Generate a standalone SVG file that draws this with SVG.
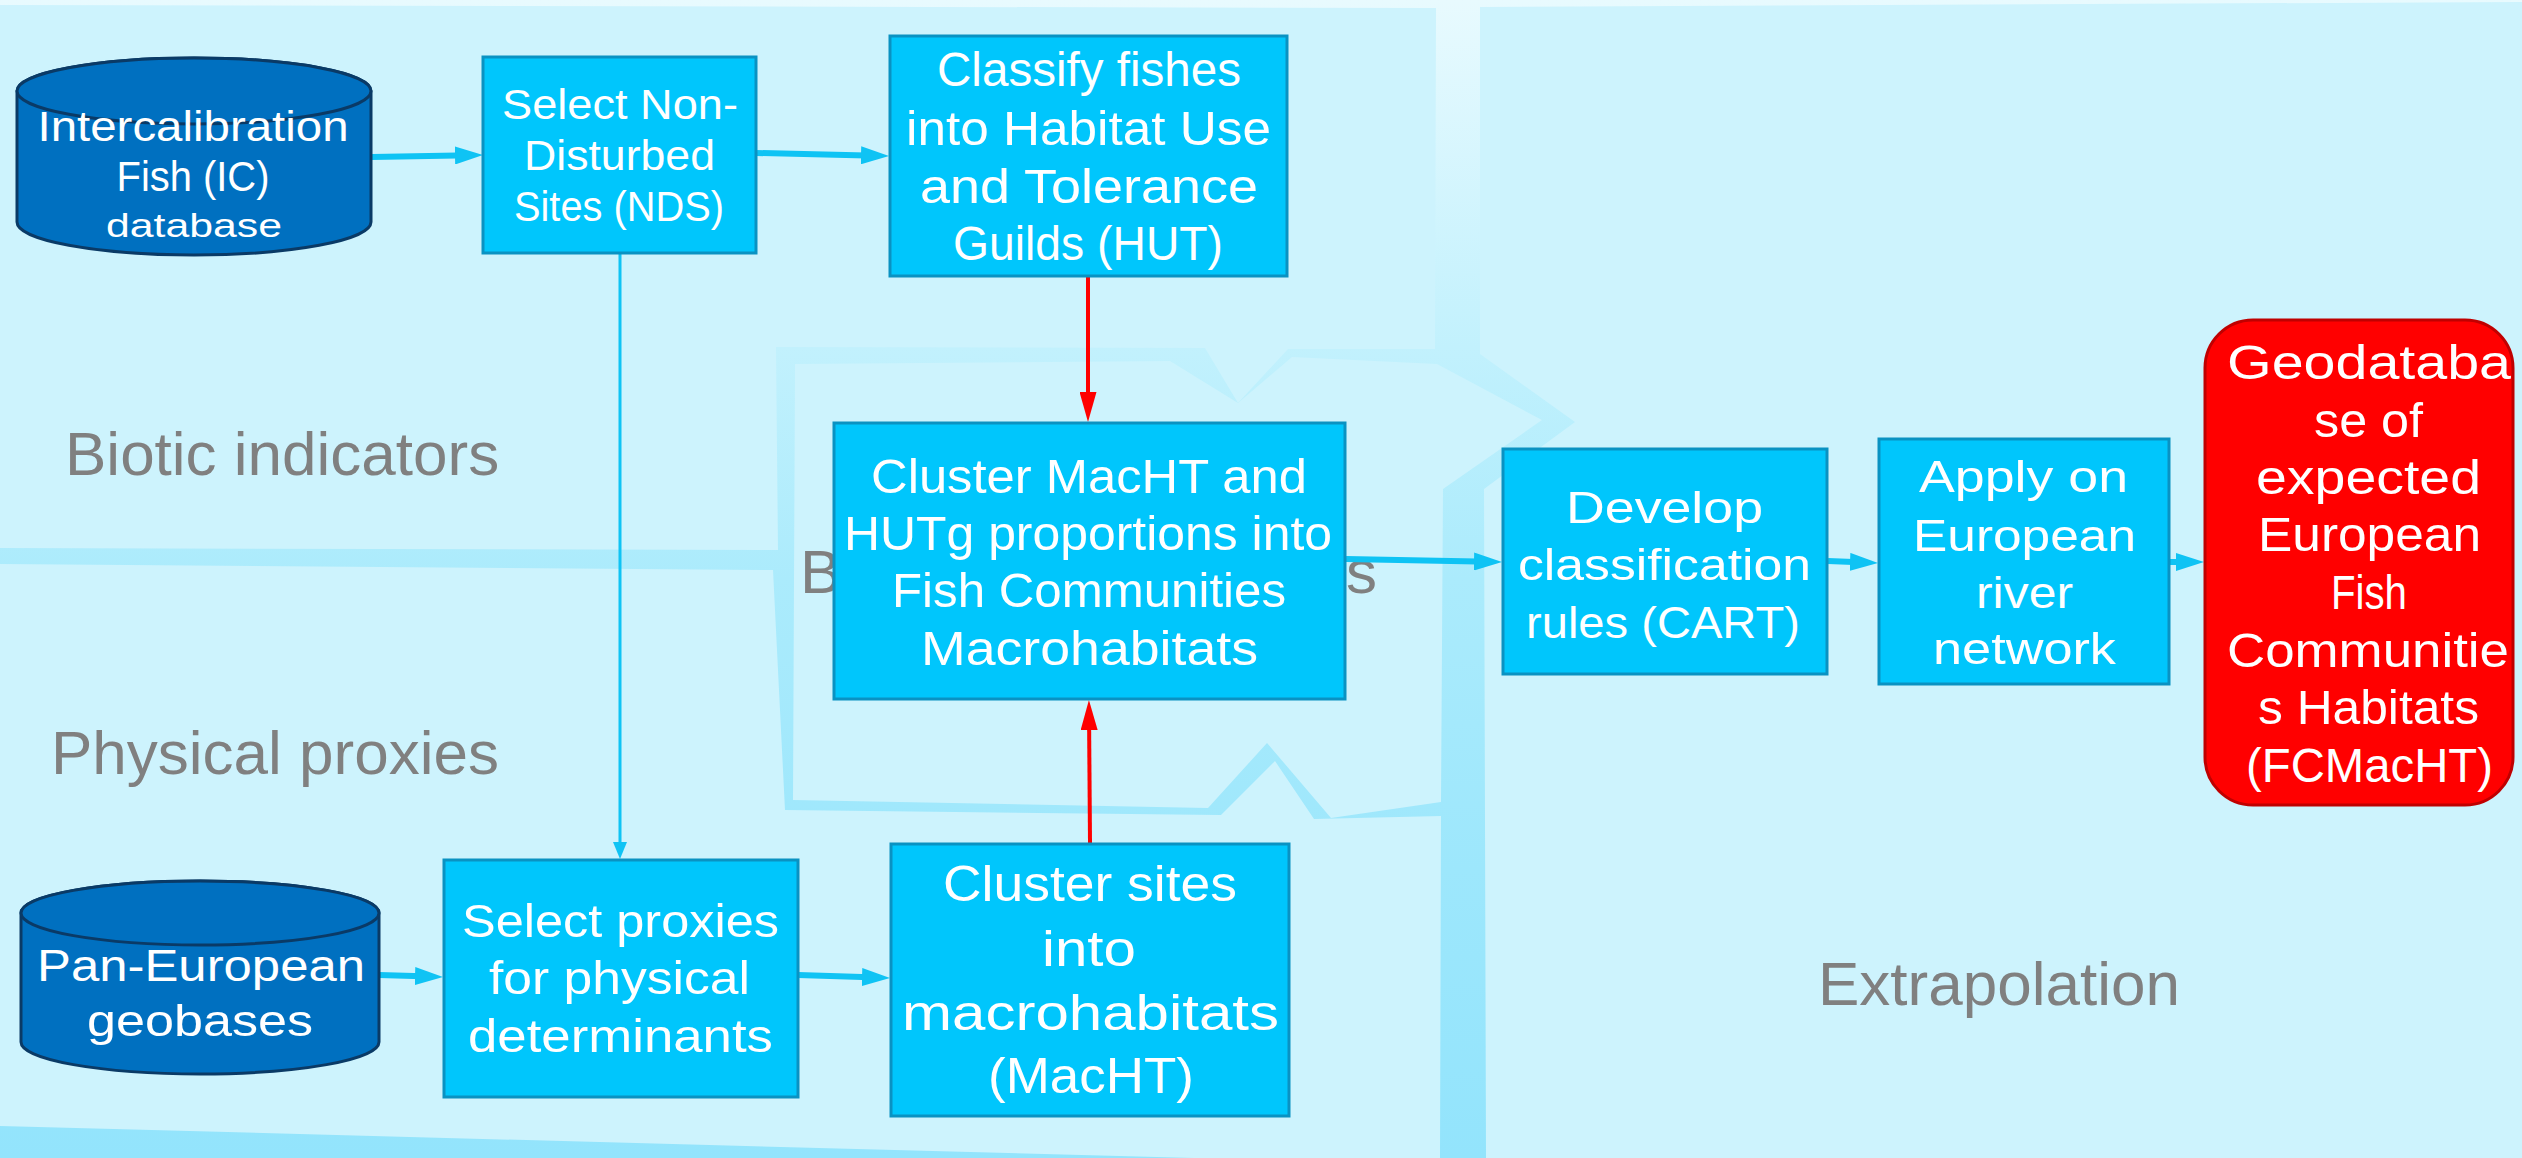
<svg xmlns="http://www.w3.org/2000/svg" width="2522" height="1158" viewBox="0 0 2522 1158">
<defs>
  <linearGradient id="bandGrad" x1="0" y1="0" x2="0" y2="1">
    <stop offset="0" stop-color="#E8FAFE"/>
    <stop offset="0.3" stop-color="#C2F1FD"/>
    <stop offset="0.5" stop-color="#ABEBFC"/>
    <stop offset="0.75" stop-color="#9DE7FC"/>
    <stop offset="1" stop-color="#93E4FC"/>
  </linearGradient>
  <marker id="ahCyan" markerUnits="userSpaceOnUse" markerWidth="28" markerHeight="18" refX="16" refY="9" orient="auto">
    <path d="M0,0 L28,9 L0,18 Z" fill="#0FC3F4"/>
  </marker>
  <marker id="ahThin" markerUnits="userSpaceOnUse" markerWidth="17" markerHeight="14" refX="11" refY="7" orient="auto">
    <path d="M0,0 L17,7 L0,14 Z" fill="#0FC3F4"/>
  </marker>
  <marker id="ahRed" markerUnits="userSpaceOnUse" markerWidth="30" markerHeight="17" refX="20" refY="8.5" orient="auto">
    <path d="M0,0 L30,8.5 L0,17 Z" fill="#FF0000"/>
  </marker>
</defs>
<style>
  .panel { fill: #CDF3FD; }
  .box { fill: #00C6FC; stroke: #0A92C2; stroke-width: 3; }
  .geo { fill: #FF0000; stroke: #C00000; stroke-width: 3; }
  .cyl { fill: #0070C0; stroke: #0A3A66; stroke-width: 3; }
  .w { font-family: "Liberation Sans", Arial, sans-serif; fill: #FFFFFF; text-anchor: middle; }
  .g { font-family: "Liberation Sans", Arial, sans-serif; fill: #808080; font-size: 62px; }
  .fl { fill: none; stroke: #0FC3F4; stroke-width: 6; }
  .thin { fill: none; stroke: #0FC3F4; stroke-width: 3; }
  .red { fill: none; stroke: #FF0000; stroke-width: 4; }
</style>

<!-- background and panels -->
<g id="background">
  <rect x="0" y="0" width="2522" height="1158" fill="url(#bandGrad)"/>
  <polygon class="panel" points="0,5 1436,8 1435,349 1288,349 1238,403 1205,348 776,347 778,550 0,548"/>
  <polygon class="panel" points="795,364 1170,361 1238,403 1292,357 1437,364 1542,420 1443,489 1441,802 1331,818 1267,743 1208,808 793,800"/>
  <polygon class="panel" points="0,564 773,570 785,810 1221,815 1275,761 1314,819 1441,816 1440,1158 1194,1158 0,1126"/>
  <polygon class="panel" points="1480,7 2522,2 2522,1158 1486,1158 1484,489 1575,422 1480,354"/>
</g>

<g id="labels">
  <text class="g" x="65" y="475">Biotic indicators</text>
  <text class="g" x="51" y="774">Physical proxies</text>
  <text class="g" x="1818" y="1005">Extrapolation</text>
  <text class="g" x="800" y="593">B</text>
  <text class="g" x="1346" y="593">s</text>
</g>

<g id="connectors">
  <path class="fl" d="M372,157 L471,155.2" marker-end="url(#ahCyan)"/>
  <path class="fl" d="M757,153 L877,155.7" marker-end="url(#ahCyan)"/>
  <path class="thin" d="M620,253 L620,853" marker-end="url(#ahThin)"/>
  <path class="red" d="M1088,277 L1088,412" marker-end="url(#ahRed)"/>
  <path class="red" d="M1090,843 L1089,710" marker-end="url(#ahRed)"/>
  <path class="fl" d="M379,975 L431,976.6" marker-end="url(#ahCyan)"/>
  <path class="fl" d="M798,975 L878,977.6" marker-end="url(#ahCyan)"/>
  <path class="fl" d="M1346,559 L1490,561.8" marker-end="url(#ahCyan)"/>
  <path class="fl" d="M1828,561 L1866,562.5" marker-end="url(#ahCyan)"/>
  <path class="fl" d="M2170,562 L2192,562" marker-end="url(#ahCyan)"/>
</g>

<g id="ic-database">
  <path class="cyl" d="M17,91 L17,222 A177,33 0 0 0 371,222 L371,91 A177,33 0 0 0 17,91 Z"/>
  <ellipse class="cyl" cx="194" cy="91" rx="177" ry="33"/>
  <text class="w" font-size="42" x="193" y="141" textLength="311" lengthAdjust="spacingAndGlyphs">Intercalibration</text>
  <text class="w" font-size="42" x="193" y="191" textLength="153" lengthAdjust="spacingAndGlyphs">Fish (IC)</text>
  <text class="w" font-size="33" x="194" y="237" textLength="176" lengthAdjust="spacingAndGlyphs">database</text>
</g>

<g id="select-nds">
  <rect class="box" x="483" y="57" width="273" height="196"/>
  <text class="w" font-size="42" x="620" y="119" textLength="236" lengthAdjust="spacingAndGlyphs">Select Non-</text>
  <text class="w" font-size="42" x="619.5" y="170" textLength="191" lengthAdjust="spacingAndGlyphs">Disturbed</text>
  <text class="w" font-size="42" x="619" y="221" textLength="210" lengthAdjust="spacingAndGlyphs">Sites (NDS)</text>
</g>

<g id="classify-hut">
  <rect class="box" x="890" y="36" width="397" height="240"/>
  <text class="w" font-size="48" x="1089" y="86" textLength="304" lengthAdjust="spacingAndGlyphs">Classify fishes</text>
  <text class="w" font-size="48" x="1088.5" y="145" textLength="365" lengthAdjust="spacingAndGlyphs">into Habitat Use</text>
  <text class="w" font-size="48" x="1089" y="203" textLength="338" lengthAdjust="spacingAndGlyphs">and Tolerance</text>
  <text class="w" font-size="48" x="1088" y="260" textLength="270" lengthAdjust="spacingAndGlyphs">Guilds (HUT)</text>
</g>

<g id="cluster-macht-hutg">
  <rect class="box" x="834" y="423" width="511" height="276"/>
  <text class="w" font-size="48" x="1089" y="493" textLength="436" lengthAdjust="spacingAndGlyphs">Cluster MacHT and</text>
  <text class="w" font-size="48" x="1088" y="550" textLength="488" lengthAdjust="spacingAndGlyphs">HUTg proportions into</text>
  <text class="w" font-size="48" x="1089" y="607" textLength="394" lengthAdjust="spacingAndGlyphs">Fish Communities</text>
  <text class="w" font-size="48" x="1089.5" y="665" textLength="337" lengthAdjust="spacingAndGlyphs">Macrohabitats</text>
</g>

<g id="pan-european-geobases">
  <path class="cyl" d="M21,913 L21,1042 A179,32 0 0 0 379,1042 L379,913 A179,32 0 0 0 21,913 Z"/>
  <ellipse class="cyl" cx="200" cy="913" rx="179" ry="32"/>
  <text class="w" font-size="45" x="201" y="981" textLength="328" lengthAdjust="spacingAndGlyphs">Pan-European</text>
  <text class="w" font-size="45" x="200" y="1036" textLength="226" lengthAdjust="spacingAndGlyphs">geobases</text>
</g>

<g id="select-proxies">
  <rect class="box" x="444" y="860" width="354" height="237"/>
  <text class="w" font-size="47" x="620.5" y="937" textLength="317" lengthAdjust="spacingAndGlyphs">Select proxies</text>
  <text class="w" font-size="47" x="619.5" y="994" textLength="261" lengthAdjust="spacingAndGlyphs">for physical</text>
  <text class="w" font-size="47" x="620.5" y="1052" textLength="305" lengthAdjust="spacingAndGlyphs">determinants</text>
</g>

<g id="cluster-sites">
  <rect class="box" x="891" y="844" width="398" height="272"/>
  <text class="w" font-size="50" x="1090" y="901" textLength="294" lengthAdjust="spacingAndGlyphs">Cluster sites</text>
  <text class="w" font-size="50" x="1089" y="966" textLength="94" lengthAdjust="spacingAndGlyphs">into</text>
  <text class="w" font-size="50" x="1090.5" y="1030" textLength="377" lengthAdjust="spacingAndGlyphs">macrohabitats</text>
  <text class="w" font-size="50" x="1091" y="1093" textLength="206" lengthAdjust="spacingAndGlyphs">(MacHT)</text>
</g>

<g id="develop-cart">
  <rect class="box" x="1503" y="449" width="324" height="225"/>
  <text class="w" font-size="45" x="1664.5" y="523" textLength="197" lengthAdjust="spacingAndGlyphs">Develop</text>
  <text class="w" font-size="45" x="1664.5" y="580" textLength="293" lengthAdjust="spacingAndGlyphs">classification</text>
  <text class="w" font-size="45" x="1663" y="638" textLength="274" lengthAdjust="spacingAndGlyphs">rules (CART)</text>
</g>

<g id="apply-network">
  <rect class="box" x="1879" y="439" width="290" height="245"/>
  <text class="w" font-size="45" x="2023.5" y="492" textLength="209" lengthAdjust="spacingAndGlyphs">Apply on</text>
  <text class="w" font-size="45" x="2024.5" y="551" textLength="223" lengthAdjust="spacingAndGlyphs">European</text>
  <text class="w" font-size="45" x="2024.5" y="608" textLength="97" lengthAdjust="spacingAndGlyphs">river</text>
  <text class="w" font-size="45" x="2024.5" y="664" textLength="183" lengthAdjust="spacingAndGlyphs">network</text>
</g>

<g id="geodatabase-fcmacht">
  <rect class="geo" x="2205" y="320" width="308" height="485" rx="48" ry="48"/>
  <text class="w" font-size="48" x="2369" y="379" textLength="284" lengthAdjust="spacingAndGlyphs">Geodataba</text>
  <text class="w" font-size="48" x="2368.5" y="437" textLength="109" lengthAdjust="spacingAndGlyphs">se of</text>
  <text class="w" font-size="48" x="2368.5" y="494" textLength="225" lengthAdjust="spacingAndGlyphs">expected</text>
  <text class="w" font-size="48" x="2369.5" y="551" textLength="223" lengthAdjust="spacingAndGlyphs">European</text>
  <text class="w" font-size="48" x="2369" y="609" textLength="76" lengthAdjust="spacingAndGlyphs">Fish</text>
  <text class="w" font-size="48" x="2368" y="667" textLength="282" lengthAdjust="spacingAndGlyphs">Communitie</text>
  <text class="w" font-size="48" x="2368.5" y="724" textLength="221" lengthAdjust="spacingAndGlyphs">s Habitats</text>
  <text class="w" font-size="48" x="2369.5" y="782" textLength="247" lengthAdjust="spacingAndGlyphs">(FCMacHT)</text>
</g>
</svg>
